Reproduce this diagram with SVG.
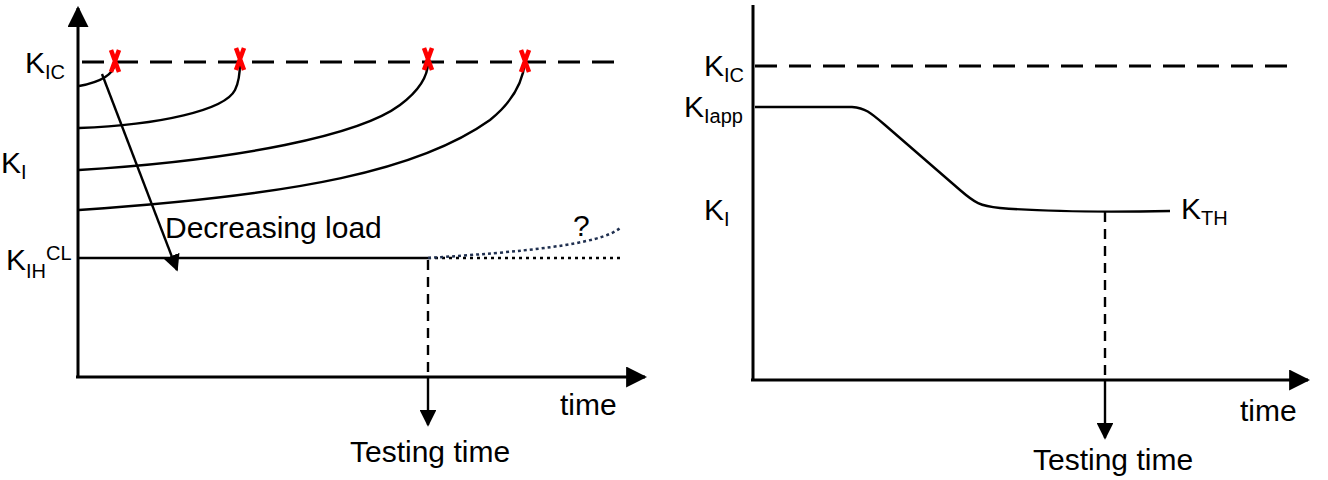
<svg xmlns="http://www.w3.org/2000/svg" width="1328" height="480" viewBox="0 0 1328 480">
<defs>
<marker id="ah" viewBox="0 0 10 10" refX="9" refY="5" markerWidth="7" markerHeight="7" orient="auto"><path d="M0,0 L10,5 L0,10 z" fill="#000"/></marker>
<style>
.t{font-family:"Liberation Sans",Arial,sans-serif;font-size:30px;fill:#000}
.s{font-size:20px}
.ln{fill:none;stroke:#000;stroke-width:2.4}
.ax{fill:none;stroke:#000;stroke-width:3}
.dash{fill:none;stroke:#000;stroke-width:3;stroke-dasharray:22,12}
.x{stroke:#f00;stroke-width:4.5;fill:none}
</style>
</defs>
<g id="left-axes">
<line class="ax" x1="78" y1="378" x2="78" y2="8" marker-end="url(#ah)"/>
<line class="ax" x1="76" y1="377" x2="645" y2="377" marker-end="url(#ah)"/>
</g>
<g id="left-labels">
<text class="t" x="25" y="73">K<tspan class="s" dy="6">IC</tspan></text>
<text class="t" x="1" y="173">K<tspan class="s" dy="6">I</tspan></text>
<text class="t" x="6" y="270">K<tspan class="s" dy="8">IH</tspan><tspan class="s" dy="-18">CL</tspan></text>
<text class="t" x="165" y="238">Decreasing load</text>
<text class="t" x="573" y="236">?</text>
<text class="t" x="560" y="415">time</text>
<text class="t" x="350" y="462">Testing time</text>
</g>
<g id="left-curves">
<line class="dash" x1="82" y1="62" x2="620" y2="62"/>
<path class="ln" d="M79,86 Q112,80 115,64"/>
<path class="ln" d="M79,128 C160,125 225,110 235,90 C240,80 240,70 240,62"/>
<path class="ln" d="M79,170 C240,160 360,135 400,105 C420,90 428,75 428,62"/>
<path class="ln" d="M79,210 C300,195 420,170 490,120 C515,100 523,80 525,62"/>
<line class="ln" x1="78" y1="258" x2="428" y2="258"/>
<line x1="428" y1="258" x2="620" y2="258" stroke="#000" stroke-width="2.5" stroke-dasharray="3,4"/>
<path d="M428,258 C520,252 600,245 620,228" fill="none" stroke="#1f2f4f" stroke-width="2.5" stroke-dasharray="3,3"/>
<line class="ln" x1="102" y1="74" x2="177" y2="270" marker-end="url(#ah)"/>
<path class="x" d="M111,50 L119,72 M119,50 L111,72"/>
<path class="x" d="M236,48 L244,70 M244,48 L236,70"/>
<path class="x" d="M424,48 L432,70 M432,48 L424,70"/>
<path class="x" d="M521,50 L529,72 M529,50 L521,72"/>
<line class="ln" x1="428" y1="260" x2="428" y2="377" stroke-dasharray="10,7"/>
<line class="ln" x1="428" y1="377" x2="428" y2="425" marker-end="url(#ah)"/>
</g>
<g id="right-axes">
<line class="ax" x1="753" y1="5" x2="753" y2="381"/>
<line class="ax" x1="751" y1="380" x2="1308" y2="380" marker-end="url(#ah)"/>
</g>
<g id="right-labels">
<text class="t" x="704" y="76">K<tspan class="s" dy="6">IC</tspan></text>
<text class="t" x="684" y="117">K<tspan class="s" dy="6">Iapp</tspan></text>
<text class="t" x="704" y="220">K<tspan class="s" dy="6">I</tspan></text>
<text class="t" x="1181" y="219">K<tspan class="s" dy="6">TH</tspan></text>
<text class="t" x="1240" y="421">time</text>
<text class="t" x="1033" y="470">Testing time</text>
</g>
<g id="right-curves">
<line class="dash" x1="755" y1="66" x2="1295" y2="66"/>
<path class="ln" d="M755,107 L852,107 C865,108 870,112 885,125 L960,190 C975,203 980,206 1000,208 C1050,212 1120,212 1170,211"/>
<line class="ln" x1="1105" y1="212" x2="1105" y2="380" stroke-dasharray="10,7"/>
<line class="ln" x1="1105" y1="380" x2="1105" y2="438" marker-end="url(#ah)"/>
</g>
</svg>
